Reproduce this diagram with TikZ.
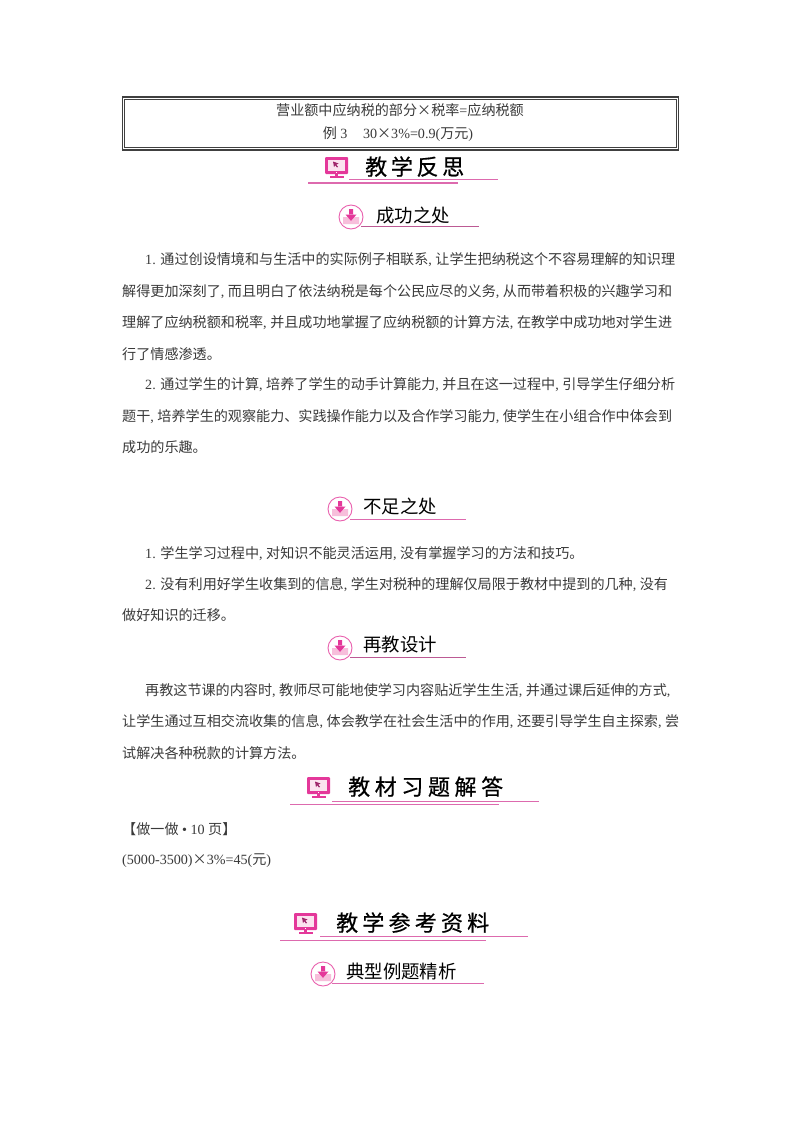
\documentclass[tikz,border=0pt]{standalone}
\usepackage{fontspec}
\setmainfont{Noto Sans CJK SC}
\newfontfamily\lat{Liberation Serif}
\newfontfamily\heavy[FakeBold=0.6]{Noto Sans CJK SC}
\definecolor{rosepink}{HTML}{E4389A}
\definecolor{rosesoft}{HTML}{F7BEDB}
\definecolor{rosepale}{HTML}{FBE3EF}
\definecolor{ruleline}{HTML}{DD6AAE}
\definecolor{bodyink}{HTML}{3A3A3A}
\newcommand{\cm}{{\lat,}\kern.25em}
\newcommand{\lt}[1]{{\lat #1}}
\tikzset{
  bodytext/.style={anchor=base west,yshift=-5pt,inner sep=0pt,text=bodyink,font=\fontsize{14.1}{16}\selectfont},
  boxtext/.style={anchor=base,yshift=-5pt,inner sep=0pt,text=bodyink,font=\fontsize{14.1}{16}\selectfont},
  bannertext/.style={anchor=base west,yshift=-8pt,inner sep=0pt,text=black,font=\heavy\fontsize{22}{24}\selectfont},
  subtext/.style={anchor=base west,yshift=-6.5pt,inner sep=0pt,text=black,font=\fontsize{18.4}{20}\selectfont},
  rulestyle/.style={draw=ruleline,line width=1pt},
}
% monitor icon: top-left x,y
\newcommand{\monitoricon}[2]{%
  \begin{scope}[shift={(#1,#2)}]
    \fill[rosepink,rounded corners=1pt] (0,0) rectangle (23,17);
    \fill[rosepale] (3,3) rectangle (20,13.5);
    \fill[rosepink] (10,17) rectangle (13,19);
    \fill[rosepink] (4.5,18.5) rectangle (18.5,21);
    \fill[white] (11,14.6) rectangle (12.2,15.8);
    \fill[rosepink!70!black] (8,4.5) -- (13.5,6.5) -- (11.3,7.6) -- (13,9.8) -- (12,10.5) -- (10.3,8.3) -- (9,10) -- cycle;
  \end{scope}}
% download icon: centre x,y
\newcommand{\downicon}[2]{%
  \begin{scope}[shift={(#1,#2)}]
    \draw[rosepink!80,line width=0.9pt,fill=white] (0,0) circle (12);
    \fill[rosesoft] (-8,0) -- (-3.5,0) -- (0,4) -- (3.5,0) -- (8,0) -- (8,7) -- (-8,7) -- cycle;
    \fill[rosepink] (-2,-8) rectangle (2,-2) (-5.5,-2.5) -- (5.5,-2.5) -- (0,4) -- cycle;
  \end{scope}}
\newcommand{\spreadtext}[2]{\hbox to #1pt{#2}}
\begin{document}
\begin{tikzpicture}[x=1pt,y=-1pt]
\useasboundingbox (0,0) rectangle (800,1132);
\fill[white] (0,0) rectangle (800,1132);

% framed box
\node[draw=black!75,line width=1.4pt,minimum width=556pt,minimum height=53pt,inner sep=0pt] (frameouter) at (400.5,123.5) {};
\node[draw=black!75,line width=0.9pt,minimum width=551.5pt,minimum height=48.5pt,inner sep=0pt] (frameinner) at (400.5,123.5) {};
\node[boxtext] (boxa) at (400,110) {营业额中应纳税的部分×税率\lt{=}应纳税额};
\node[boxtext] (boxb) at (398,133) {例\lt{ 3}\hspace{1.1em}\lt{30}×\lt{3\%=0.9(}万元\lt{)}};

% banner 1
\monitoricon{325}{157}
\draw[rulestyle] (349,179.5) -- (498,179.5);
\draw[rulestyle,line width=1.2pt] (308,183) -- (458,183);
\node[bannertext] (bannera) at (365,167) {\spreadtext{99}{教\hfill 学\hfill 反\hfill 思}};

% sub 1
\downicon{351}{217}
\draw[rulestyle,draw=ruleline!85!black] (361,226) -- (479,226);
\node[subtext] (suba) at (376,215.5) {成功之处};

\node[bodytext] (la) at (145,259) {\lt{1. }通过创设情境和与生活中的实际例子相联系\cm 让学生把纳税这个不容易理解的知识理};
\node[bodytext] (lb) at (122,291) {解得更加深刻了\cm 而且明白了依法纳税是每个公民应尽的义务\cm 从而带着积极的兴趣学习和};
\node[bodytext] (lc) at (122,322) {理解了应纳税额和税率\cm 并且成功地掌握了应纳税额的计算方法\cm 在教学中成功地对学生进};
\node[bodytext] (ld) at (122,354) {行了情感渗透。};
\node[bodytext] (le) at (145,384) {\lt{2. }通过学生的计算\cm 培养了学生的动手计算能力\cm 并且在这一过程中\cm 引导学生仔细分析};
\node[bodytext] (lf) at (122,416) {题干\cm 培养学生的观察能力、实践操作能力以及合作学习能力\cm 使学生在小组合作中体会到};
\node[bodytext] (lg) at (122,447) {成功的乐趣。};

% sub 2
\downicon{340}{509}
\draw[rulestyle] (350,519) -- (466,519);
\node[subtext] (subb) at (363,507) {不足之处};

\node[bodytext] (lh) at (145,553) {\lt{1. }学生学习过程中\cm 对知识不能灵活运用\cm 没有掌握学习的方法和技巧。};
\node[bodytext] (li) at (145,584) {\lt{2. }没有利用好学生收集到的信息\cm 学生对税种的理解仅局限于教材中提到的几种\cm 没有};
\node[bodytext] (lj) at (122,615) {做好知识的迁移。};

% sub 3
\downicon{340}{648}
\draw[rulestyle,draw=ruleline!85!black] (350,657.5) -- (466,657.5);
\node[subtext] (subc) at (363,645) {再教设计};

\node[bodytext] (lk) at (145,690) {再教这节课的内容时\cm 教师尽可能地使学习内容贴近学生生活\cm 并通过课后延伸的方式\cm};
\node[bodytext] (ll) at (122,721) {让学生通过互相交流收集的信息\cm 体会教学在社会生活中的作用\cm 还要引导学生自主探索\cm 尝};
\node[bodytext] (lm) at (122,753) {试解决各种税款的计算方法。};

% banner 2
\monitoricon{307}{777}
\draw[rulestyle] (332,801) -- (539,801);
\draw[rulestyle] (290,804) -- (499,804);
\node[bannertext] (bannerb) at (348,787) {\spreadtext{155}{教\hfill 材\hfill 习\hfill 题\hfill 解\hfill 答}};

\node[bodytext] (ln) at (122,829) {【做一做\lt{ \textbullet{} 10 }页】};
\node[bodytext] (lo) at (122,859) {\lt{(5000-3500)}×\lt{3\%=45(}元\lt{)}};

% banner 3
\monitoricon{294}{913}
\draw[rulestyle] (320,936) -- (528,936);
\draw[rulestyle] (280,940) -- (486,940);
\node[bannertext] (bannerc) at (336,923) {\spreadtext{153}{教\hfill 学\hfill 参\hfill 考\hfill 资\hfill 料}};

% sub 4
\downicon{323}{974}
\draw[rulestyle] (332,983) -- (484,983);
\node[subtext] (subd) at (346,972) {典型例题精析};
\end{tikzpicture}
\end{document}
